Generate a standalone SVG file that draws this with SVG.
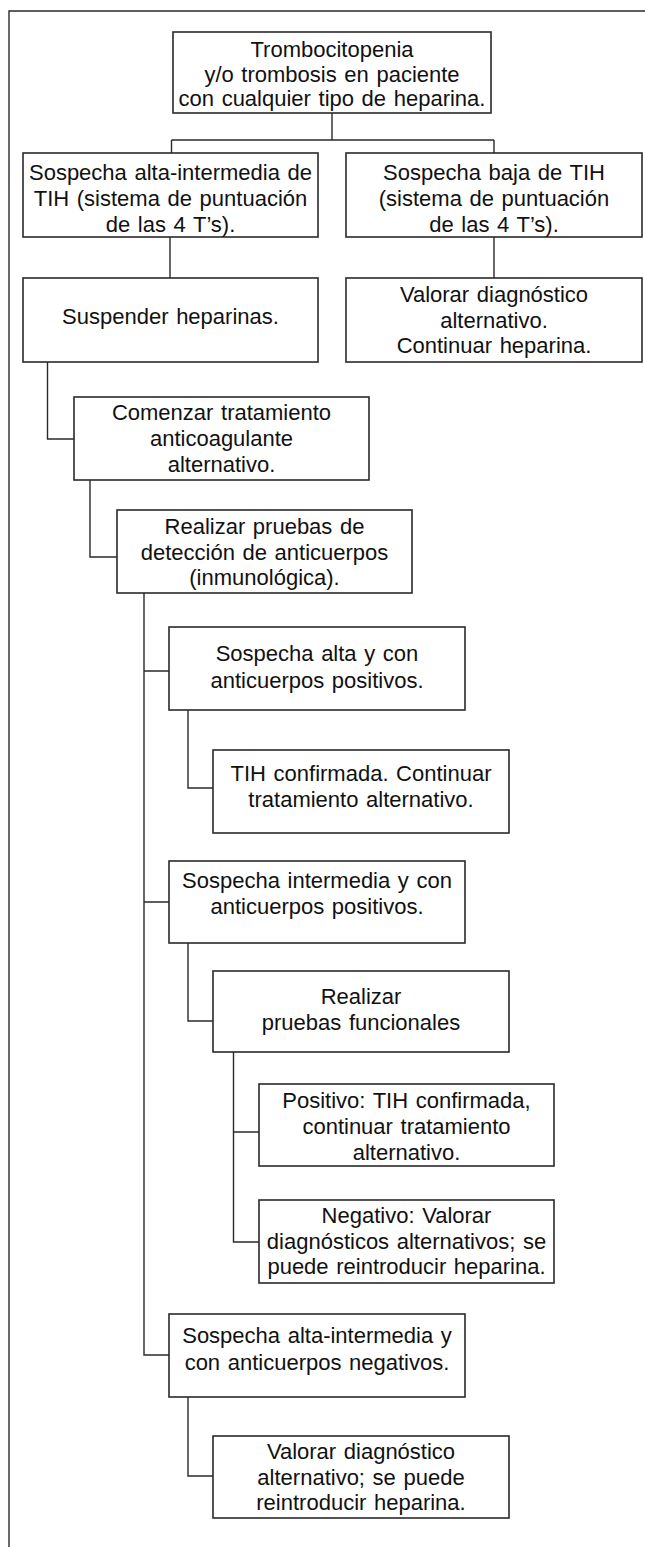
<svg xmlns="http://www.w3.org/2000/svg" width="645" height="1547" viewBox="0 0 645 1547">
<style>
rect.b{fill:#fff;stroke:#2a2a2a;stroke-width:1.6}
.c path{fill:none;stroke:#2a2a2a;stroke-width:1.4}
text{font-family:"Liberation Sans",Arial,sans-serif;font-size:22px;fill:#111;text-anchor:middle;word-spacing:1.5px}
</style>
<rect width="645" height="1547" fill="#fff"/>
<g class="c" id="connectors">
<path d="M9,1547 V11 H645"/>
<path d="M332,113 V140 M171.5,140 H494 M171.5,140 V153 M494,140 V153"/>
<path d="M170,237 V278 M494,237 V278"/>
<path d="M47.5,362 V439 H74"/>
<path d="M90,480 V557 H117"/>
<path d="M144,593 V1355 H169 M144,671 H169 M144,902 H169"/>
<path d="M188,710 V788 H213"/>
<path d="M188,943 V1021 H213"/>
<path d="M233.5,1052 V1242 H259 M233.5,1132 H259"/>
<path d="M188,1397 V1476 H213"/>
</g>
<g id="n_top"><rect class="b" x="173" y="32" width="318" height="81"/>
<text x="332" y="56.5">Trombocitopenia</text><text x="332" y="81.5">y/o trombosis en paciente</text><text x="332" y="106">con cualquier tipo de heparina.</text></g>
<g id="n_alta"><rect class="b" x="23" y="153" width="295" height="84"/>
<text x="170.5" y="180">Sospecha alta-intermedia de</text><text x="170.5" y="206">TIH (sistema de puntuación</text><text x="170.5" y="232">de las 4 T’s).</text></g>
<g id="n_baja"><rect class="b" x="346" y="153" width="296" height="84"/>
<text x="494" y="180">Sospecha baja de TIH</text><text x="494" y="206">(sistema de puntuación</text><text x="494" y="232">de las 4 T’s).</text></g>
<g id="n_susp"><rect class="b" x="23" y="278" width="295" height="84"/>
<text x="170.5" y="324">Suspender heparinas.</text></g>
<g id="n_val1"><rect class="b" x="346" y="278" width="296" height="84"/>
<text x="494" y="302">Valorar diagnóstico</text><text x="494" y="328">alternativo.</text><text x="494" y="353">Continuar heparina.</text></g>
<g id="n_com"><rect class="b" x="74" y="397" width="295" height="83"/>
<text x="221.5" y="420">Comenzar tratamiento</text><text x="221.5" y="446">anticoagulante</text><text x="221.5" y="472">alternativo.</text></g>
<g id="n_real"><rect class="b" x="117" y="510" width="295" height="83"/>
<text x="264.5" y="534">Realizar pruebas de</text><text x="264.5" y="560">detección de anticuerpos</text><text x="264.5" y="585">(inmunológica).</text></g>
<g id="n_sa"><rect class="b" x="169" y="627" width="296" height="83"/>
<text x="317" y="661">Sospecha alta y con</text><text x="317" y="688">anticuerpos positivos.</text></g>
<g id="n_tihc"><rect class="b" x="213" y="750" width="296" height="83"/>
<text x="361" y="781">TIH confirmada. Continuar</text><text x="361" y="807">tratamiento alternativo.</text></g>
<g id="n_si"><rect class="b" x="169" y="861" width="296" height="82"/>
<text x="317" y="888">Sospecha intermedia y con</text><text x="317" y="914">anticuerpos positivos.</text></g>
<g id="n_rpf"><rect class="b" x="213" y="971" width="296" height="81"/>
<text x="361" y="1004">Realizar</text><text x="361" y="1030">pruebas funcionales</text></g>
<g id="n_pos"><rect class="b" x="259" y="1084" width="295" height="82"/>
<text x="406.5" y="1108">Positivo: TIH confirmada,</text><text x="406.5" y="1134">continuar tratamiento</text><text x="406.5" y="1160">alternativo.</text></g>
<g id="n_neg"><rect class="b" x="259" y="1200" width="295" height="83"/>
<text x="406.5" y="1223">Negativo: Valorar</text><text x="406.5" y="1249">diagnósticos alternativos; se</text><text x="406.5" y="1274">puede reintroducir heparina.</text></g>
<g id="n_sai"><rect class="b" x="169" y="1314" width="296" height="83"/>
<text x="317" y="1343">Sospecha alta-intermedia y</text><text x="317" y="1370">con anticuerpos negativos.</text></g>
<g id="n_val2"><rect class="b" x="213" y="1436" width="296" height="82"/>
<text x="361" y="1459">Valorar diagnóstico</text><text x="361" y="1485">alternativo; se puede</text><text x="361" y="1510">reintroducir heparina.</text></g>
</svg>
